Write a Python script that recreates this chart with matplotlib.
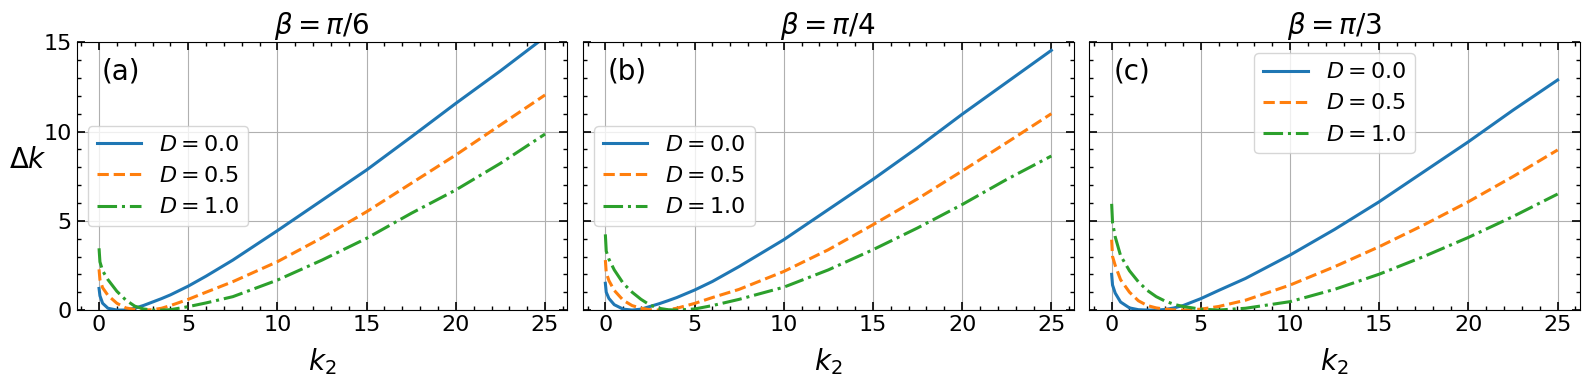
import matplotlib
matplotlib.use("Agg")
import matplotlib.pyplot as plt
import matplotlib.ticker as mticker

# k2 sample points
K2 = [0, 0.05, 0.2, 0.5, 1, 1.5, 2, 2.5, 3, 3.5, 4, 5, 6, 7.5, 10, 12.5, 15, 17.5, 20, 22.5, 25]

# beta = pi/6
A_D00 = [1.21, 0.8, 0.38, 0.1, 0.0, 0.0, 0.1, 0.26, 0.45, 0.64, 0.85, 1.34, 1.9, 2.8, 4.45, 6.15, 7.85, 9.7, 11.58, 13.4, 15.3]
A_D05 = [2.28, 1.7, 1.25, 0.82, 0.38, 0.12, 0.03, 0.0, 0.02, 0.1, 0.25, 0.6, 1.0, 1.59, 2.71, 4.05, 5.51, 7.1, 8.69, 10.37, 12.05]
A_D10 = [3.46, 2.7, 2.2, 1.7, 1.05, 0.56, 0.22, 0.06, 0.0, 0.0, 0.02, 0.19, 0.4, 0.75, 1.68, 2.8, 4.02, 5.42, 6.73, 8.22, 9.86]

# beta = pi/4
B_D00 = [1.5, 1.0, 0.65, 0.3, 0.05, 0.0, 0.05, 0.2, 0.35, 0.52, 0.7, 1.12, 1.6, 2.44, 3.94, 5.63, 7.32, 9.1, 10.97, 12.76, 14.55]
B_D05 = [2.8, 2.1, 1.65, 1.1, 0.55, 0.25, 0.1, 0.02, 0.0, 0.02, 0.1, 0.37, 0.7, 1.16, 2.16, 3.38, 4.78, 6.23, 7.79, 9.38, 11.0]
B_D10 = [4.24, 3.3, 2.85, 2.25, 1.5, 1.0, 0.6, 0.28, 0.1, 0.02, 0.0, 0.06, 0.25, 0.6, 1.28, 2.25, 3.38, 4.6, 5.91, 7.32, 8.63]

# beta = pi/3
C_D00 = [2.0, 1.4, 0.95, 0.45, 0.12, 0.02, 0.0, 0.0, 0.03, 0.12, 0.25, 0.64, 1.1, 1.77, 3.08, 4.52, 6.07, 7.75, 9.43, 11.2, 12.89]
C_D05 = [3.94, 3.0, 2.5, 1.7, 1.0, 0.52, 0.25, 0.12, 0.05, 0.01, 0.0, 0.05, 0.2, 0.55, 1.4, 2.43, 3.55, 4.77, 6.07, 7.48, 8.97]
C_D10 = [5.95, 4.9, 4.1, 3.05, 2.2, 1.58, 1.1, 0.75, 0.5, 0.32, 0.2, 0.05, 0.0, 0.1, 0.47, 1.16, 2.01, 3.0, 4.07, 5.24, 6.5]

TITLES = [r"$\beta=\pi/6$", r"$\beta=\pi/4$", r"$\beta=\pi/3$"]
PANEL_TAGS = ["(a)", "(b)", "(c)"]
D_LABELS = [r"$D=0.0$", r"$D=0.5$", r"$D=1.0$"]
PANELS = [(A_D00, A_D05, A_D10), (B_D00, B_D05, B_D10), (C_D00, C_D05, C_D10)]
LEGEND_LOCS = ["center left", "center left", "upper center"]

STYLES = [("#1f77b4", "-"), ("#ff7f0e", "--"), ("#2ca02c", "-.")]

fig, axes = plt.subplots(1, 3, figsize=(15.89, 3.9), dpi=100, sharey=True)
fig.subplots_adjust(left=0.0483, right=0.9943, top=0.8915, bottom=0.205, wspace=0.032)

for i, ax in enumerate(axes):
    for series, (col, ls), lab in zip(PANELS[i], STYLES, D_LABELS):
        ax.plot(K2, series, color=col, linestyle=ls, linewidth=2.2, label=lab)

    ax.set_xlim(-1.25, 26.25)
    ax.set_ylim(0, 15)
    ax.xaxis.set_major_locator(mticker.MultipleLocator(5))
    ax.xaxis.set_minor_locator(mticker.MultipleLocator(1))
    ax.yaxis.set_major_locator(mticker.MultipleLocator(5))
    ax.yaxis.set_minor_locator(mticker.MultipleLocator(1))
    ax.tick_params(which="both", direction="in", top=True, right=True, labelsize=16)
    ax.tick_params(which="major", length=6, width=1.2)
    ax.tick_params(which="minor", length=3, width=1)
    ax.grid(True, which="major", color="#b0b0b0", linewidth=0.8)

    ax.set_title(TITLES[i], fontsize=20)
    ax.set_xlabel(r"$k_2$", fontsize=20, labelpad=8)
    ax.text(0.05, 0.89, PANEL_TAGS[i], transform=ax.transAxes, fontsize=20,
            ha="left", va="center")
    ax.legend(loc=LEGEND_LOCS[i], fontsize=16, handlelength=2.0)

axes[0].set_ylabel(r"$\Delta k$", fontsize=20, rotation=0, ha="center", va="center")
axes[0].yaxis.set_label_coords(-0.1, 0.56)

plt.savefig("out.png", dpi=100)
